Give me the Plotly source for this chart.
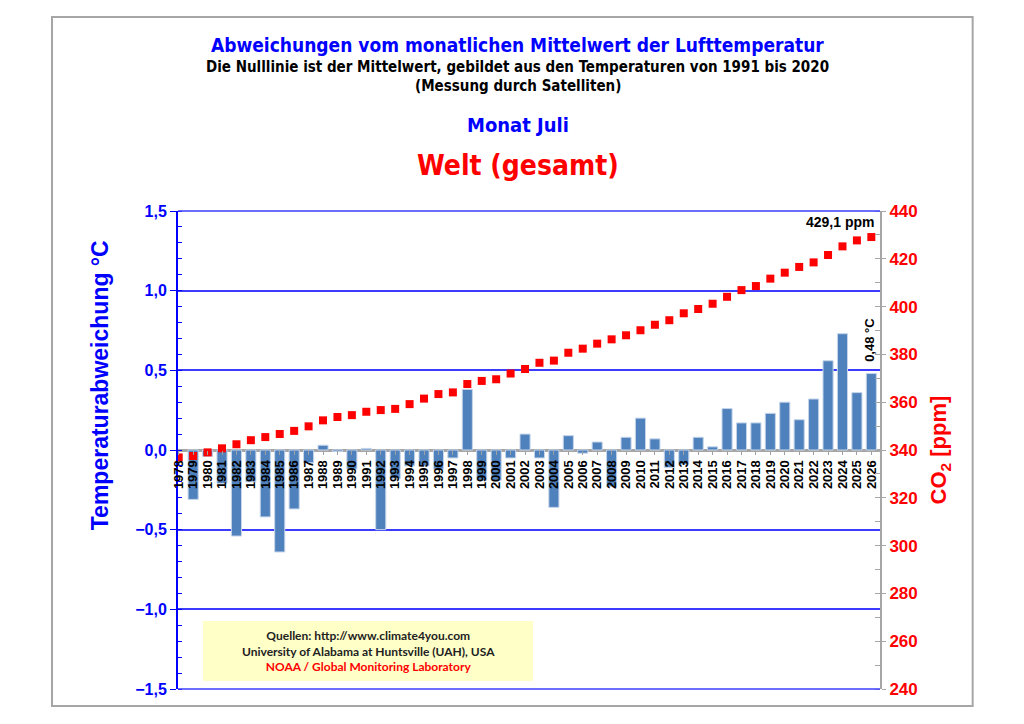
import plotly.graph_objects as go

# Jahre, Temperaturabweichung (UAH, Juli) und CO2 (NOAA)
years = list(range(1978, 2027))
anomaly = [None, -0.31, -0.04, -0.21, -0.54, -0.20, -0.42, -0.64, -0.37, -0.08,
           0.03, -0.01, -0.12, 0.01, -0.50, -0.18, -0.10, -0.10, -0.12, -0.05,
           0.38, -0.19, -0.19, -0.05, 0.10, -0.05, -0.36, 0.09, -0.02, 0.05,
           -0.23, 0.08, 0.20, 0.07, -0.11, -0.09, 0.08, 0.02, 0.26, 0.17,
           0.17, 0.23, 0.30, 0.19, 0.32, 0.56, 0.73, 0.36, 0.48]
co2 = [336.9, 337.5, 339.0, 340.7, 342.4, 344.1, 345.4, 346.7, 348.0, 349.9,
       352.4, 353.8, 354.6, 356.0, 356.7, 357.2, 359.2, 361.5, 363.4, 364.1,
       367.6, 368.9, 369.6, 372.0, 373.9, 376.5, 377.4, 380.7, 382.4, 384.5,
       386.3, 388.0, 390.1, 392.4, 394.3, 397.2, 399.0, 401.2, 404.1, 406.9,
       408.6, 411.7, 414.2, 416.6, 418.5, 421.6, 425.2, 427.7, 429.1]
year_labels = [str(y) for y in years]

narrow = "Liberation Sans Narrow, DejaVu Sans Condensed, Arial Narrow, sans-serif"
arial = "Liberation Sans, Arial, sans-serif"

fig = go.Figure()

fig.add_trace(go.Bar(
    x=years, y=anomaly, width=0.7,
    marker=dict(color='#4F81BD', line=dict(color='#C5D5EA', width=1)),
    showlegend=False, yaxis='y'))

fig.add_trace(go.Scatter(
    x=years, y=co2, mode='markers', yaxis='y2',
    marker=dict(symbol='square', size=8, color='#FF0000'),
    showlegend=False))

# page body has an 8px margin, so the figure is a bit smaller than the window
fig.update_layout(
    width=1008, height=708,
    margin=dict(l=170, r=136, t=203, b=27),
    paper_bgcolor='white', plot_bgcolor='white',
    separators=',.',
    xaxis=dict(
        range=[1977.95, 2026.6],
        tickmode='array', tickvals=years, ticktext=year_labels,
        tickangle=-90,
        tickfont=dict(family=arial, size=13, color='black', weight='bold'),
        ticks='outside', ticklen=4, tickcolor='#A0A0A0',
        showgrid=False, showline=False, zeroline=False,
        anchor='free', position=0.5),
    yaxis=dict(
        range=[-1.5, 1.5], dtick=0.5, tickformat='.1f',
        tickfont=dict(family=arial, size=16, color='#0000FF', weight='bold'),
        showline=True, linecolor='#0000FF', linewidth=2,
        ticks='outside', ticklen=6, tickcolor='#0000FF',
        minor=dict(dtick=0.1, ticks='inside', ticklen=4, tickcolor='#0000FF',
                   showgrid=False),
        showgrid=True, gridcolor='#3C3CFF', gridwidth=1.5,
        zeroline=True, zerolinecolor='#A6A6A6', zerolinewidth=2.5),
    yaxis2=dict(
        range=[240, 440], dtick=20, overlaying='y', side='right',
        tickfont=dict(family=arial, size=17, color='#FF0000', weight='bold'),
        showline=True, linecolor='#A6A6A6', linewidth=2,
        ticks='outside', ticklen=4, tickcolor='#A6A6A6',
        minor=dict(dtick=10, ticks='inside', ticklen=5, tickcolor='#A6A6A6',
                   showgrid=False),
        showgrid=False, zeroline=False,
        title=dict(text='CO<sub>2</sub> [ppm]', standoff=14,
                   font=dict(family=arial, size=22, color='#FF0000', weight='bold'))),
)

# Rahmen, Randlinien oben/unten und Quellenkasten
fig.add_shape(type='rect', xref='paper', yref='paper',
              x0=-0.1795, x1=1.132, y0=-0.0356, y1=1.406,
              line=dict(color='#A6A6A6', width=2), layer='below')
for yy in (0, 1):
    fig.add_shape(type='line', xref='paper', yref='paper', x0=0, x1=1, y0=yy, y1=yy,
                  line=dict(color='#3C3CFF', width=1.5))
fig.add_shape(type='rect', xref='paper', yref='paper',
              x0=0.0356, x1=0.5057, y0=0.0167, y1=0.142,
              fillcolor='#FFFFC8', line=dict(width=0), layer='above')

titles = [
    ('Abweichungen vom monatlichen Mittelwert der Lufttemperatur', 1.347, 19, '#0000FF'),
    ('Die Nulllinie ist der Mittelwert, gebildet aus den Temperaturen von 1991 bis 2020', 1.301, 15, 'black'),
    ('(Messung durch Satelliten)', 1.262, 15, 'black'),
    ('Monat Juli', 1.180, 20, '#0000FF'),
    ('Welt (gesamt)', 1.096, 28, '#FF0000'),
]
for text, y, size, color in titles:
    fig.add_annotation(text=text, xref='paper', yref='paper', x=0.4843, y=y,
                       xanchor='center', yanchor='middle', showarrow=False,
                       font=dict(family=narrow, size=size, color=color, weight='bold'))

fig.add_annotation(text='Temperaturabweichung °C', xref='paper', yref='paper',
                   x=-0.11, y=0.635, textangle=-90, showarrow=False,
                   xanchor='center', yanchor='middle',
                   font=dict(family=arial, size=23, color='#0000FF', weight='bold'))

fig.add_annotation(
    text="Quellen: http://www.climate4you.com<br>"
         "University of Alabama at Huntsville (UAH), USA<br>"
         "<span style='color:#FF0000'>NOAA / Global Monitoring Laboratory</span>",
    xref='paper', yref='paper', x=0.2707, y=0.0795,
    xanchor='center', yanchor='middle', showarrow=False,
    font=dict(family='Lato, Open Sans, sans-serif', size=12, color='#222222', weight='bold'))

fig.add_annotation(
    text=f"{co2[-1]:.1f} ppm".replace('.', ','),
    x=years[-1] + 0.3, y=co2[-1], yref='y2', xanchor='right', yanchor='bottom',
    yshift=5, showarrow=False,
    font=dict(family=arial, size=14, color='black', weight='bold'))

fig.add_annotation(
    text=f"{anomaly[-1]:.2f} °C".replace('.', ','),
    x=years[-1], y=anomaly[-1], yref='y', xanchor='center', yanchor='bottom',
    textangle=-90, xshift=-2, yshift=10, showarrow=False,
    font=dict(family=arial, size=13, color='black', weight='bold'))

fig.write_html("out.html")
